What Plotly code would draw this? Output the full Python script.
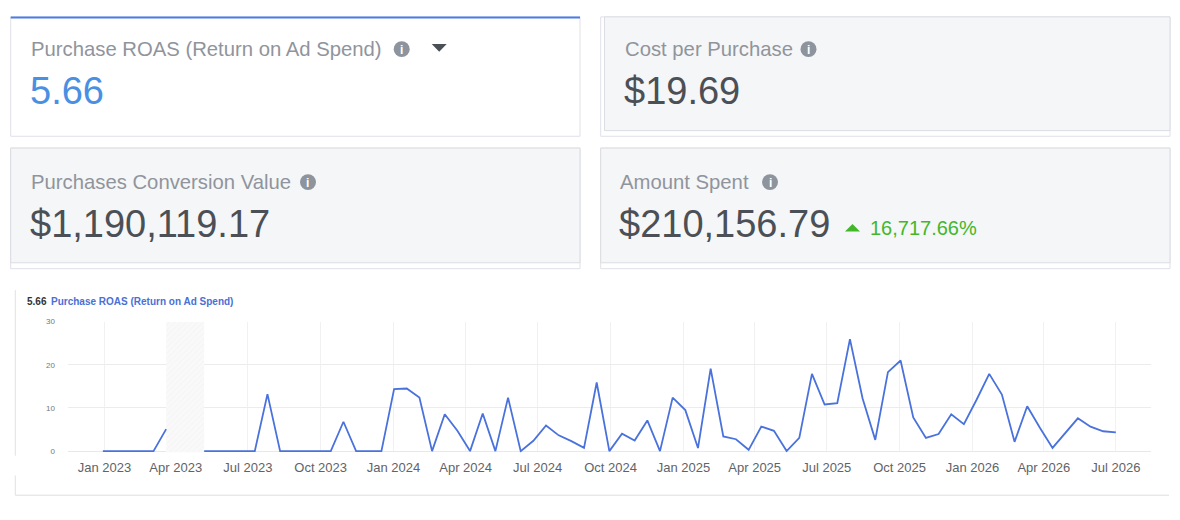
import pandas as pd
import plotly.graph_objects as go

# ---- data ----
kpi_titles = ["Purchase ROAS (Return on Ad Spend)", "Cost per Purchase",
              "Purchases Conversion Value", "Amount Spent"]
kpi_values = ["5.66", "$19.69", "$1,190,119.17", "$210,156.79"]
spend_change = "16,717.66%"

chart_label_value = "5.66"
chart_label_name = "Purchase ROAS (Return on Ad Spend)"

# one point roughly every 16 days, Dec 30 2022 -> Jul 1 2026 (81 points)
dates = pd.date_range("2022-12-30", "2026-07-01", periods=81)
roas = [0, 0, 0, 0, 0, 5.1, None, None, 0, 0,
        0, 0, 0, 13.2, 0, 0, 0, 0, 0, 6.8,
        0, 0, 0, 14.35, 14.5, 12.4, 0, 8.55, 4.7, 0,
        8.7, 0, 12.4, 0, 2.4, 5.95, 3.65, 2.3, 0.75, 15.9,
        0, 4.05, 2.45, 7.1, 0, 12.4, 9.5, 0.7, 19.1, 3.4,
        2.75, 0.3, 5.7, 4.7, 0, 3.05, 17.9, 10.8, 11.1, 25.95,
        12.2, 2.6, 18.3, 21.0, 7.8, 3.05, 3.95, 8.55, 6.25, 11.9,
        17.9, 13.1, 2.15, 10.4, 5.4, 0.75, 4.2, 7.6, 5.65, 4.6,
        4.35]
# period with no data (hatched band in the chart)
no_data_start = dates[5]
no_data_end = dates[8]

# page body keeps its default 8px margin, so the figure is a bit smaller
# and every position below is given in screen pixels
OFF = 8
W, H = 1164, 504


def px(x):  # screen pixel -> paper x
    return (x - OFF) / W


def py(y):  # screen pixel -> paper y
    return 1 - (y - OFF) / H


FONT = "Liberation Sans, Arial, sans-serif"
TITLE_GREY = "#90949c"
VALUE_GREY = "#4b4f56"
BORDER = "#dfe0ea"
CARD_BG = "#f5f6f7"

fig = go.Figure()

# hatched "no data" band
fig.add_trace(go.Scatter(
    x=[no_data_start, no_data_start, no_data_end, no_data_end, no_data_start],
    y=[-0.3, 30, 30, -0.3, -0.3],
    fill="toself", mode="lines", line=dict(width=0),
    fillcolor="#f8f8f8",
    fillpattern=dict(shape="/", size=4, solidity=0.2,
                     fgcolor="#e8e8e8", bgcolor="#f9f9f9"),
    hoverinfo="skip", showlegend=False))

fig.add_trace(go.Scatter(
    x=dates, y=roas, mode="lines",
    line=dict(color="#4a72dc", width=1.8),
    connectgaps=False, showlegend=False,
    hovertemplate="%{x|%b %d, %Y}<br>ROAS: %{y}<extra></extra>"))

shapes = []
annotations = []

# ---- cards ----
# card 1: white, blue top edge
shapes.append(dict(type="rect", xref="paper", yref="paper",
                   x0=px(10.7), x1=px(580), y0=py(134), y1=py(13),
                   fillcolor="white", line=dict(color=BORDER, width=1)))
shapes.append(dict(type="line", xref="paper", yref="paper",
                   x0=px(10.7), x1=px(580), y0=py(13.5), y1=py(13.5),
                   line=dict(color="#4a7de8", width=2)))
# card 2: grey inset
shapes.append(dict(type="rect", xref="paper", yref="paper",
                   x0=px(600.7), x1=px(1170), y0=py(134), y1=py(13),
                   fillcolor="white", line=dict(color=BORDER, width=1)))
shapes.append(dict(type="rect", xref="paper", yref="paper",
                   x0=px(604.5), x1=px(1170), y0=py(128.3), y1=py(13),
                   fillcolor=CARD_BG, line=dict(color="#dcdde1", width=1)))
# cards 3 and 4
for x0, x1 in [(10.7, 580), (600.7, 1170)]:
    shapes.append(dict(type="rect", xref="paper", yref="paper",
                       x0=px(x0), x1=px(x1), y0=py(268.3), y1=py(146),
                       fillcolor="white", line=dict(color=BORDER, width=1)))
    shapes.append(dict(type="rect", xref="paper", yref="paper",
                       x0=px(x0), x1=px(x1), y0=py(262.3), y1=py(146),
                       fillcolor=CARD_BG, line=dict(color="#dcdde1", width=1)))

# titles, values, info icons
title_pos = [(29.3, 46), (623, 46), (29.3, 180), (618.3, 180)]
value_pos = [(28, 88.5), (622, 88.5), (28, 222.5), (617, 222.5)]
icon_pos = [(401.7, 45.7), (808.5, 45.7), (308, 180.5), (770, 180.5)]
value_colors = ["#4a90e2", VALUE_GREY, VALUE_GREY, VALUE_GREY]

for i in range(4):
    tx, ty = title_pos[i]
    annotations.append(dict(text=kpi_titles[i], xref="paper", yref="paper",
                            x=px(tx), y=py(ty), xanchor="left", yanchor="middle",
                            showarrow=False,
                            font=dict(family=FONT, size=20.3, color=TITLE_GREY)))
    vx, vy = value_pos[i]
    annotations.append(dict(text=kpi_values[i], xref="paper", yref="paper",
                            x=px(vx), y=py(vy), xanchor="left", yanchor="middle",
                            showarrow=False,
                            font=dict(family=FONT, size=38, color=value_colors[i])))
    cx, cy = icon_pos[i]
    shapes.append(dict(type="circle", xref="paper", yref="paper",
                       x0=px(cx - 8), x1=px(cx + 8), y0=py(cy + 8), y1=py(cy - 8),
                       fillcolor="#8d949e", line=dict(width=0)))
    annotations.append(dict(text="<b>i</b>", xref="paper", yref="paper",
                            x=px(cx), y=py(cy + 0.5), xanchor="center", yanchor="middle",
                            showarrow=False,
                            font=dict(family=FONT, size=12, color="white")))

# dropdown caret on card 1
shapes.append(dict(type="path", xref="paper", yref="paper",
                   path=f"M {px(431.7)} {py(40.5)} L {px(446.7)} {py(40.5)} "
                        f"L {px(439.2)} {py(48.3)} Z",
                   fillcolor="#4b4f56", line=dict(width=0)))
# green up-arrow and change text on card 4
shapes.append(dict(type="path", xref="paper", yref="paper",
                   path=f"M {px(845)} {py(230.7)} L {px(860)} {py(230.7)} "
                        f"L {px(852.5)} {py(223)} Z",
                   fillcolor="#42b72a", line=dict(width=0)))
annotations.append(dict(text=spend_change, xref="paper", yref="paper",
                        x=px(867.5), y=py(227), xanchor="left", yanchor="middle",
                        showarrow=False,
                        font=dict(family=FONT, size=20, color="#42b72a")))

# ---- chart container ----
for y0, y1 in [(290, 458), (478, 498)]:
    shapes.append(dict(type="line", xref="paper", yref="paper",
                       x0=px(15.3), x1=px(15.3), y0=py(y0), y1=py(y1),
                       line=dict(color="#e2e2e2", width=1)))
shapes.append(dict(type="line", xref="paper", yref="paper",
                   x0=px(15.3), x1=px(1169), y0=py(498), y1=py(498),
                   line=dict(color="#dedede", width=1)))

annotations.append(dict(text=f"<b>{chart_label_value}</b>", xref="paper", yref="paper",
                        x=px(24.5), y=py(301.5), xanchor="left", yanchor="middle",
                        showarrow=False, font=dict(family=FONT, size=10, color="#333333")))
annotations.append(dict(text=f"<b>{chart_label_name}</b>", xref="paper", yref="paper",
                        x=px(48.8), y=py(301.5), xanchor="left", yanchor="middle",
                        showarrow=False, font=dict(family=FONT, size=10, color="#4a6fd6")))

fig.update_layout(
    width=W, height=H,
    margin=dict(l=0, r=0, t=0, b=0),
    paper_bgcolor="white", plot_bgcolor="white",
    showlegend=False,
    shapes=shapes,
    annotations=annotations,
    xaxis=dict(
        domain=[px(68), px(1150.7)],
        type="date",
        range=["2022-11-16", "2026-08-14"],
        tick0="2023-01-01", dtick="M3", tickformat="%b %Y",
        showgrid=True, gridcolor="#f1f1f1", gridwidth=1,
        showline=False, zeroline=False, ticks="",
        ticklabelstandoff=6,
        tickfont=dict(family=FONT, size=13, color="#5f6368"),
    ),
    yaxis=dict(
        domain=[py(454.6), py(322)],
        range=[-0.3, 30],
        tickvals=[0, 10, 20, 30],
        showgrid=True, gridcolor="#ececec", gridwidth=1,
        zeroline=True, zerolinecolor="#e8e8e8", zerolinewidth=1,
        showline=False, ticks="",
        ticklabelstandoff=12,
        tickfont=dict(family=FONT, size=8, color="#777777"),
    ),
)

fig.write_html("out.html")
